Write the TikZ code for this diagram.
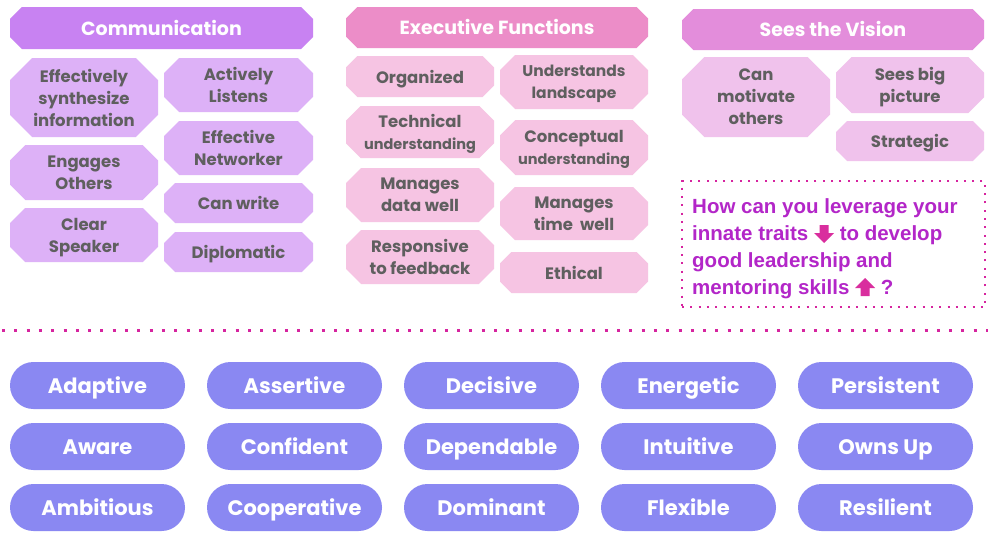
\documentclass[tikz,border=0pt]{standalone}
\usepackage{fontspec}
\setmainfont{Poppins}
\newfontfamily\qfont{Liberation Sans}
\usetikzlibrary{calc}
\definecolor{ccomhead}{HTML}{C882F2}
\definecolor{ccombox}{HTML}{DDB1F7}
\definecolor{cexehead}{HTML}{EC8DC8}
\definecolor{cexebox}{HTML}{F6C4E3}
\definecolor{cvishead}{HTML}{E38DDB}
\definecolor{cvisbox}{HTML}{F0C2EC}
\definecolor{cpill}{HTML}{8A88F2}
\definecolor{cgreytext}{HTML}{5F5F5F}
\definecolor{cquest}{HTML}{B326C8}
\definecolor{carrow}{HTML}{D92E9E}
\definecolor{cdots}{HTML}{D6249F}
\newcommand{\smalltext}{\fontsize{14.5}{20}\selectfont}
\newcommand{\qdown}{\tikz[baseline=0pt]\fill[carrow] (-4.5pt,15pt) -- (4.5pt,15pt) -- (4.5pt,7pt) -- (10pt,7pt) -- (0pt,-3pt) -- (-10pt,7pt) -- (-4.5pt,7pt) -- cycle;}
\newcommand{\qup}{\tikz[baseline=0pt]\fill[carrow] (0pt,16pt) -- (10pt,6pt) -- (4.5pt,6pt) -- (4.5pt,-2pt) -- (-4.5pt,-2pt) -- (-4.5pt,6pt) -- (-10pt,6pt) -- cycle;}
\tikzset{
  octfill/.store in=\octfill, octfill=ccombox,
  octo/.style={rectangle, inner sep=0pt, align=center, text depth=0pt, path picture={
      \fill[\octfill] let \p1=(path picture bounding box.north east), \p2=(path picture bounding box.south west),
        \n1={0.28*(\y1-\y2)} in
        (\x2+\n1,\y1) -- (\x1-\n1,\y1) -- (\x1,\y1-\n1) -- (\x1,\y2+\n1) -- (\x1-\n1,\y2) -- (\x2+\n1,\y2)
        -- (\x2,\y2+\n1) -- (\x2,\y1-\n1) -- cycle;}},
  wh/.style 2 args={minimum width=#1pt, minimum height=#2pt},
  head/.style={octo, octfill=#1, text=white, text height=14pt, font=\fontsize{19}{22}\selectfont\bfseries},
  cell/.style={octo, octfill=#1, text=cgreytext, font=\fontsize{16.5}{22}\selectfont\bfseries},
  smallcell/.style={font=\fontsize{15.5}{22}\selectfont\bfseries},
  pill/.style={fill=cpill, rounded corners=23.5pt, minimum width=175pt, minimum height=47pt, text=white,
    text height=15.5pt, text depth=0pt, font=\fontsize{21}{26}\selectfont\bfseries},
  qframe/.style={draw=cdots, line width=2pt, dash pattern=on 2pt off 6.3pt, inner sep=0pt},
  qtext/.style={text=cquest, align=left, inner sep=0pt, font=\qfont\fontsize{20.5}{27}\selectfont\bfseries},
  sepdots/.style={draw=cdots, line width=3pt, dash pattern=on 3pt off 9.3pt},
}

\begin{document}
\begin{tikzpicture}[x=1pt, y=-1pt]
  \path[use as bounding box, fill=white] (0,0) rectangle (988,558);
  % communication
  \node[head=ccomhead, wh={303}{42}] (comm) at (161.5,28) {Communication};
  \node[cell=ccombox, wh={148}{79}] (comm-synth) at (84,97.5) {Effectively\\synthesize\\information};
  \node[cell=ccombox, wh={148}{55}] (comm-engage) at (84,172.5) {Engages\\Others};
  \node[cell=ccombox, wh={148}{54}] (comm-speak) at (84,235) {Clear\\Speaker};
  \node[cell=ccombox, wh={149}{54}] (comm-listen) at (238.5,85) {Actively\\Listens};
  \node[cell=ccombox, wh={149}{54}] (comm-network) at (238.5,148) {Effective\\Networker};
  \node[cell=ccombox, wh={149}{40}] (comm-write) at (238.5,203) {Can write};
  \node[cell=ccombox, wh={149}{40}] (comm-diplo) at (238.5,252) {Diplomatic};
  % executive functions
  \node[head=cexehead, wh={302}{41}] (exec) at (497,27.5) {Executive Functions};
  \node[cell=cexebox, wh={148}{41}] (exec-org) at (420,76.5) {Organized};
  \node[cell=cexebox, wh={148}{52}] (exec-tech) at (420,132) {Technical\\{\smalltext understanding}};
  \node[cell=cexebox, wh={148}{54}] (exec-data) at (420,195) {Manages\\data well};
  \node[cell=cexebox, wh={148}{54}] (exec-resp) at (420,257) {Responsive\\to feedback};
  \node[cell=cexebox, smallcell, wh={148}{54}] (exec-land) at (574,82) {Understands\\landscape};
  \node[cell=cexebox, wh={148}{55}] (exec-concept) at (574,147.5) {Conceptual\\{\smalltext understanding}};
  \node[cell=cexebox, wh={148}{53}] (exec-time) at (574,213.5) {Manages\\time\ \ well};
  \node[cell=cexebox, wh={148}{41}] (exec-ethic) at (574,272.5) {Ethical};
  % sees the vision
  \node[head=cvishead, wh={302}{41}] (vision) at (833,29.5) {Sees the Vision};
  \node[cell=cvisbox, wh={148}{80}] (vis-motivate) at (756,97) {Can\\motivate\\others};
  \node[cell=cvisbox, wh={148}{56}] (vis-big) at (910,85) {Sees big\\picture};
  \node[cell=cvisbox, wh={148}{40}] (vis-strat) at (910,141) {Strategic};
  % question
  \node[qframe, wh={303}{126}] (qframe) at (833.5,244) {};
  \node[qtext, anchor=north west] (question) at (692,198)
    {How can you leverage your\\innate traits \qdown{} to develop\\good leadership and\\mentoring skills \qup{} ?};
  % separator
  \coordinate (sepL) at (2,330);
  \coordinate (sepR) at (988,330);
  \draw[sepdots] (sepL) -- (sepR);
  % innate traits
  \foreach \ta/\tb/\tc [count=\c] in {Adaptive/Aware/Ambitious, Assertive/Confident/Cooperative,
      Decisive/Dependable/Dominant, Energetic/Intuitive/Flexible, Persistent/Owns Up/Resilient} {
    \node[pill] (trait-\c-1) at ({97.5+197*(\c-1)},385.5) {\ta};
    \node[pill] (trait-\c-2) at ({97.5+197*(\c-1)},446.5) {\tb};
    \node[pill] (trait-\c-3) at ({97.5+197*(\c-1)},507.5) {\tc};
  }
\end{tikzpicture}
\end{document}
